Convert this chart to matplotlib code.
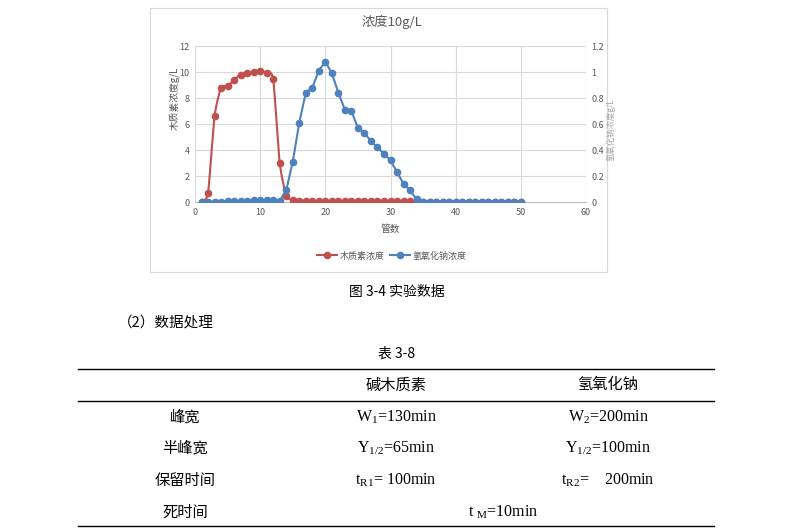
import numpy as np
import matplotlib
matplotlib.use("Agg")
import matplotlib.pyplot as plt
from matplotlib.lines import Line2D
from matplotlib.patches import Rectangle

plt.rcParams['font.family'] = ['Noto Sans CJK SC', 'DejaVu Sans']
plt.rcParams['mathtext.fontset'] = 'custom'
plt.rcParams['mathtext.rm'] = 'Liberation Serif'
plt.rcParams['mathtext.it'] = 'Liberation Serif'

# data
tubes = list(range(1, 51))
lignin = [0, 0.7, 6.6, 8.8, 8.9, 9.4, 9.8, 9.9, 10.0, 10.05,
          9.95, 9.45, 3.0, 0.5, 0.15, 0.1, 0.08, 0.08, 0.08, 0.08,
          0.08, 0.08, 0.08, 0.08, 0.08, 0.1, 0.08, 0.08, 0.08, 0.08,
          0.08, 0.08, 0.08, 0.05, 0.02, 0.02, 0.02, 0.02, 0.02, 0.02,
          0.02, 0.02, 0.02, 0.02, 0.02, 0.02, 0.02, 0.02, 0.02, 0.02]
naoh = [0, 0, 0, 0.003, 0.005, 0.007, 0.008, 0.01, 0.012, 0.013,
        0.014, 0.012, 0.01, 0.09, 0.31, 0.61, 0.84, 0.88, 1.01, 1.08,
        0.99, 0.84, 0.71, 0.70, 0.57, 0.53, 0.47, 0.42, 0.37, 0.32,
        0.23, 0.14, 0.09, 0.02, 0, 0, 0, 0, 0, 0,
        0, 0, 0, 0, 0, 0, 0, 0, 0, 0]

left_ticks = [0, 2, 4, 6, 8, 10, 12]
right_ticks = [0, 0.2, 0.4, 0.6, 0.8, 1, 1.2]
right_labels = ['0', '0.2', '0.4', '0.6', '0.8', '1', '1.2']
x_ticks = [0, 10, 20, 30, 40, 50, 60]

col_heads = ['碱木质素', '氢氧化钠']
row_heads = ['峰宽', '半峰宽', '保留时间', '死时间']
col1 = ['W$_1$=130min', 'Y$_{1/2}$=65min', 't$_{\\mathrm{R1}}$= 100min']
col2 = ['W$_2$=200min', 'Y$_{1/2}$=100min', 't$_{\\mathrm{R2}}$=    200min']
dead_time = 't $_\\mathrm{M}$=10min'

RED = '#C0504D'
BLUE = '#4F81BD'
GRAY = '#595959'
W, H = 802, 531


def fx(x):
    return x / W


def fy(y):
    return 1 - y / H


def smooth(xs, ys, n=12):
    # catmull-rom like excel's smoothed line
    xs = np.asarray(xs, float)
    ys = np.asarray(ys, float)
    px = np.concatenate([[xs[0]], xs, [xs[-1]]])
    py = np.concatenate([[ys[0]], ys, [ys[-1]]])
    ox, oy = [], []
    t = np.linspace(0, 1, n, endpoint=False)
    for i in range(1, len(px) - 2):
        for p, out in ((px, ox), (py, oy)):
            p0, p1, p2, p3 = p[i - 1], p[i], p[i + 1], p[i + 2]
            m1 = (p2 - p0) / 2 * 0.6
            m2 = (p3 - p1) / 2 * 0.6
            h00 = 2 * t**3 - 3 * t**2 + 1
            h10 = t**3 - 2 * t**2 + t
            h01 = -2 * t**3 + 3 * t**2
            h11 = t**3 - t**2
            out.extend(h00 * p1 + h10 * m1 + h01 * p2 + h11 * m2)
    ox.append(xs[-1])
    oy.append(ys[-1])
    return ox, oy


fig = plt.figure(figsize=(W / 100, H / 100), dpi=100)

# chart frame
fig.patches.append(Rectangle((fx(150), fy(272)), fx(607) - fx(150), fy(8) - fy(272),
                             transform=fig.transFigure, fill=False, edgecolor='#D9D9D9', lw=0.8))

ax = fig.add_axes([fx(195), fy(202), fx(586) - fx(195), fy(46) - fy(202)])
ax2 = ax.twinx()

sx, sy = smooth(tubes, lignin)
ax.plot(sx, sy, color=RED, lw=1.5, zorder=3)
ax.plot(tubes, lignin, 'o', color=RED, ms=4.5, zorder=3)
ax2.plot(tubes, naoh, '-o', color=BLUE, lw=1.5, ms=4.5, zorder=4)

ax.set_xlim(0, 60)
ax.set_ylim(0, 12)
ax2.set_ylim(0, 1.2)
ax.set_xticks(x_ticks)
ax.set_yticks(left_ticks)
ax2.set_yticks(right_ticks)
ax2.set_yticklabels(right_labels)
ax.grid(True, color='#D9D9D9', lw=0.8)
ax.set_axisbelow(True)
for a in (ax, ax2):
    for s in a.spines.values():
        s.set_visible(False)
    a.tick_params(length=0, labelsize=6.5, labelcolor=GRAY, pad=4)
ax.spines['bottom'].set_visible(True)
ax.spines['bottom'].set_color('#BFBFBF')

fig.text(fx(392), fy(22), '浓度10g/L', ha='center', va='center', fontsize=9.5, color=GRAY)
fig.text(fx(390), fy(229), '管数', ha='center', va='center', fontsize=7, color=GRAY)
fig.text(fx(174), fy(98), '木质素浓度g/L', ha='center', va='center', rotation=90, fontsize=7, color=GRAY)
fig.text(fx(611), fy(130), '氢氧化钠浓度g/L', ha='center', va='center', rotation=90, fontsize=6, color='#A6A6A6')

handles = [Line2D([], [], color=RED, marker='o', ms=4.5, lw=1.5),
           Line2D([], [], color=BLUE, marker='o', ms=4.5, lw=1.5)]
fig.legend(handles, ['木质素浓度', '氢氧化钠浓度'], loc='center', bbox_to_anchor=(fx(392), fy(256)),
           ncol=2, frameon=False, fontsize=6.5, labelcolor=GRAY, handlelength=2.2,
           columnspacing=0.6, handletextpad=0.3)

# text below chart
fig.text(fx(397), fy(292), '图 3-4 实验数据', ha='center', va='center', fontsize=10)
fig.text(fx(118), fy(323), '（2）数据处理', ha='left', va='center', fontsize=10.5)
fig.text(fx(397), fy(354), '表 3-8', ha='center', va='center', fontsize=10)

for y in (369, 401, 526):
    fig.add_artist(Line2D([fx(78), fx(714)], [fy(y), fy(y)], color='black', lw=1.0))

col_x = [185, 396, 608]
fig.text(fx(col_x[1]), fy(385), col_heads[0], ha='center', va='center', fontsize=11)
fig.text(fx(col_x[2]), fy(385), col_heads[1], ha='center', va='center', fontsize=11)
row_y = [417, 448, 480, 512]
for i, lab in enumerate(row_heads):
    fig.text(fx(col_x[0]), fy(row_y[i]), lab, ha='center', va='center', fontsize=11)
serif = dict(ha='center', va='center', fontsize=11.5, family='Liberation Serif')
for i in range(3):
    fig.text(fx(col_x[1]), fy(row_y[i]), col1[i], **serif)
    fig.text(fx(col_x[2]), fy(row_y[i]), col2[i], **serif)
fig.text(fx(503), fy(row_y[3]), dead_time, **serif)

fig.savefig('out.png', dpi=100)
